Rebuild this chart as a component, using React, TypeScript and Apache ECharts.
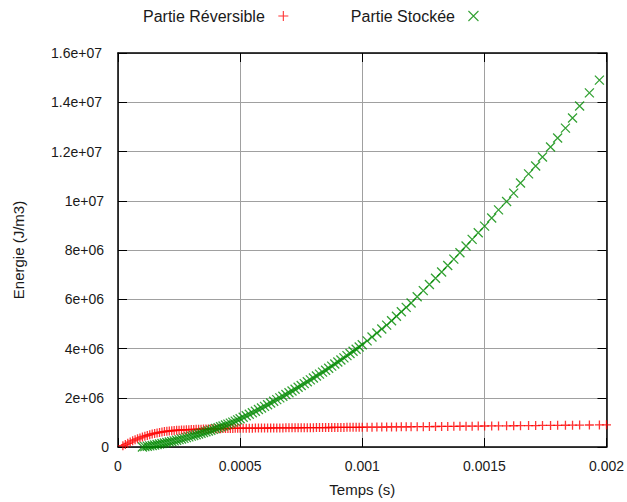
import React, { useEffect, useRef } from "react";
import * as echarts from "echarts";

// Time in microseconds
const tempsUs = [
  20, 30, 40, 50, 60, 70, 80, 90, 100, 110, 120, 130, 140, 150, 160, 170, 180, 190, 200,
  210, 220, 230, 240, 250, 260, 270, 280, 290, 300, 310, 320, 330, 340, 350, 360, 370, 380,
  390, 400, 410, 420, 430, 440, 450, 460, 470, 480, 490, 500,
  512.5, 525, 537.5, 550, 562.5, 575, 587.5, 600, 612.5, 625, 637.5, 650, 662.5, 675, 687.5, 700,
  712.5, 725, 737.5, 750, 762.5, 775, 787.5, 800, 812.5, 825, 837.5, 850, 862.5, 875, 887.5, 900,
  912.5, 925, 937.5, 950, 962.5, 975, 987.5, 1000,
  1020, 1040, 1060, 1080, 1100, 1120, 1140, 1160, 1180, 1200,
  1225, 1250, 1275, 1300, 1325, 1350, 1375, 1400, 1425, 1450, 1475,
  1501, 1530, 1558, 1591, 1620, 1648, 1681, 1710, 1738, 1771, 1800, 1832, 1861, 1890, 1930, 1971,
  2000,
];

// Energy in units of 1e6 J/m3
const reversibleMJ = [
  0.05, 0.1, 0.15, 0.2, 0.25, 0.29, 0.33, 0.37, 0.41, 0.44, 0.47, 0.5, 0.53, 0.55, 0.57, 0.59, 0.61, 0.625, 0.64,
  0.65, 0.66, 0.67, 0.68, 0.685, 0.69, 0.695, 0.7, 0.705, 0.71, 0.714, 0.718, 0.722, 0.725, 0.728, 0.731, 0.734, 0.737,
  0.74, 0.742, 0.744, 0.746, 0.748, 0.75, 0.752, 0.754, 0.756, 0.758, 0.76, 0.762,
  0.763, 0.764, 0.765, 0.766, 0.767, 0.768, 0.769, 0.77, 0.771, 0.772, 0.773, 0.774, 0.775, 0.776, 0.777, 0.778,
  0.779, 0.78, 0.781, 0.782, 0.783, 0.784, 0.785, 0.786, 0.787, 0.788, 0.789, 0.79, 0.791, 0.792, 0.793, 0.794,
  0.795, 0.796, 0.797, 0.798, 0.799, 0.8, 0.801, 0.802,
  0.804, 0.806, 0.808, 0.81, 0.812, 0.814, 0.816, 0.818, 0.82, 0.822,
  0.824, 0.827, 0.829, 0.832, 0.834, 0.837, 0.839, 0.842, 0.844, 0.847, 0.849,
  0.852, 0.854, 0.857, 0.86, 0.863, 0.866, 0.869, 0.872, 0.875, 0.878, 0.881, 0.884, 0.887, 0.89, 0.893, 0.897,
  0.9,
];

const storedMJ = [
  null, null, null, null, null, null, null, null,
  0.0, 0.015, 0.03, 0.045, 0.06, 0.08, 0.1, 0.12, 0.14, 0.16, 0.18,
  0.2, 0.225, 0.25, 0.275, 0.3, 0.325, 0.35, 0.38, 0.41, 0.44, 0.47, 0.5, 0.53, 0.56, 0.59, 0.62, 0.65, 0.68,
  0.715, 0.75, 0.785, 0.82, 0.855, 0.89, 0.93, 0.97, 1.01, 1.05, 1.1, 1.15,
  1.21, 1.27, 1.33, 1.39, 1.45, 1.52, 1.585, 1.65, 1.718, 1.786, 1.855, 1.924, 1.994, 2.06, 2.13, 2.2,
  2.274, 2.348, 2.423, 2.498, 2.573, 2.65, 2.725, 2.8, 2.88, 2.96, 3.04, 3.12, 3.2, 3.285, 3.37, 3.45,
  3.535, 3.62, 3.71, 3.8, 3.885, 3.97, 4.06, 4.15,
  4.31, 4.47, 4.63, 4.79, 4.95, 5.13, 5.31, 5.49, 5.67, 5.85,
  6.1, 6.35, 6.6, 6.85, 7.11, 7.37, 7.63, 7.89, 8.16, 8.43, 8.7,
  8.97, 9.3, 9.63, 9.97, 10.31, 10.72, 11.09, 11.41, 11.78, 12.18, 12.55, 12.95, 13.36, 13.85, 14.38, 14.9,
  null,
];

const seriesNames = ["Partie Réversible", "Partie Stockée"];
const seriesColors = ["#ff0000", "#008a00"];
const xTicks = { min: 0, max: 0.002, interval: 0.0005 };
const yTicks = { min: 0, max: 1.6e7, interval: 2e6 };

const FONT = "'Liberation Sans', Arial, Helvetica, sans-serif";
const TEXT = "#1a1a1a";
const PLUS = "path://M0,5L10,5M5,0L5,10";
const CROSS = "path://M0,0L10,10M10,0L0,10";

function fmtX(v: number) {
  return String(+v.toPrecision(6));
}
function fmtYText(v: number) {
  if (Math.abs(v) < 1e-9) return "0";
  const e = Math.floor(Math.log10(v) + 1e-9);
  const m = +(v / Math.pow(10, e)).toFixed(3);
  return `${m}e+${String(e).padStart(2, "0")}`;
}
function fmtY(v: number) {
  const t = fmtYText(v);
  return `{p${t.length}|${t}}`;
}
const richY: any = {};
for (let n = 1; n <= 8; n++) {
  richY[`p${n}`] = { padding: [0, Math.round((n - 1) * 1.15), 0, 0], fontSize: 14, color: TEXT, fontFamily: FONT };
}

function build(values: (number | null)[]) {
  const out: [number, number][] = [];
  for (let i = 0; i < tempsUs.length; i++) {
    const v = values[i];
    if (v === null || v === undefined) continue;
    out.push([tempsUs[i] / 1e6, v * 1e6]);
  }
  return out;
}

export default function App() {
  const ref = useRef<HTMLDivElement>(null);
  useEffect(() => {
    if (!ref.current) return;
    const chart = echarts.init(ref.current, undefined, { renderer: "svg" });
    const axisLine = { show: true, onZero: false, lineStyle: { color: "#000", width: 1.5 } };
    const tick = { show: true, inside: true, length: 9, lineStyle: { color: "#000", width: 1 } };
    const grid = { show: true, lineStyle: { color: "#a0a0a0", width: 1, type: "solid" } };
    chart.setOption({
      animation: false,
      backgroundColor: "#ffffff",
      textStyle: { fontFamily: FONT },
      legend: {
        left: 138,
        top: 3,
        align: "right",
        itemWidth: 27,
        itemHeight: 10,
        itemGap: 62,
        selectedMode: false,
        textStyle: { fontSize: 16, color: TEXT, fontFamily: FONT },
        data: [
          { name: seriesNames[0], icon: PLUS, itemStyle: { color: seriesColors[0], borderColor: seriesColors[0], borderWidth: 1.1 } },
          { name: seriesNames[1], icon: CROSS, itemStyle: { color: seriesColors[1], borderColor: seriesColors[1], borderWidth: 1.1 } },
        ],
      },
      grid: { left: 118, top: 53, right: 20, bottom: 55 },
      xAxis: [
        {
          type: "value",
          ...xTicks,
          name: "Temps (s)",
          nameLocation: "middle",
          nameGap: 35,
          nameTextStyle: { fontSize: 15, color: TEXT, fontFamily: FONT },
          axisLine,
          axisTick: tick,
          axisLabel: { margin: 12, fontSize: 14, color: TEXT, fontFamily: FONT, formatter: fmtX },
          splitLine: grid,
        },
        {
          type: "value",
          position: "top",
          ...xTicks,
          axisLine,
          axisTick: tick,
          axisLabel: { show: false },
          splitLine: { show: false },
        },
      ],
      yAxis: [
        {
          type: "value",
          ...yTicks,
          name: "Energie (J/m3)",
          nameLocation: "middle",
          nameGap: 92,
          nameTextStyle: { fontSize: 15, color: TEXT, fontFamily: FONT },
          axisLine,
          axisTick: tick,
          axisLabel: { margin: 9, formatter: fmtY, rich: richY },
          splitLine: grid,
        },
        {
          type: "value",
          position: "right",
          ...yTicks,
          axisLine,
          axisTick: tick,
          axisLabel: { show: false },
          splitLine: { show: false },
        },
      ],
      series: [
        {
          name: seriesNames[0],
          type: "scatter",
          symbol: PLUS,
          symbolSize: 9,
          silent: true,
          itemStyle: { color: seriesColors[0], borderColor: seriesColors[0], borderWidth: 1.3 },
          data: build(reversibleMJ),
        },
        {
          name: seriesNames[1],
          type: "scatter",
          symbol: CROSS,
          symbolSize: 9,
          silent: true,
          itemStyle: { color: seriesColors[1], borderColor: seriesColors[1], borderWidth: 1.3 },
          data: build(storedMJ),
        },
      ],
    });
    return () => chart.dispose();
  }, []);
  return (
    <div
      ref={ref}
      style={{ position: "fixed", left: 0, top: 0, width: 627, height: 502, background: "#fff" }}
    />
  );
}
